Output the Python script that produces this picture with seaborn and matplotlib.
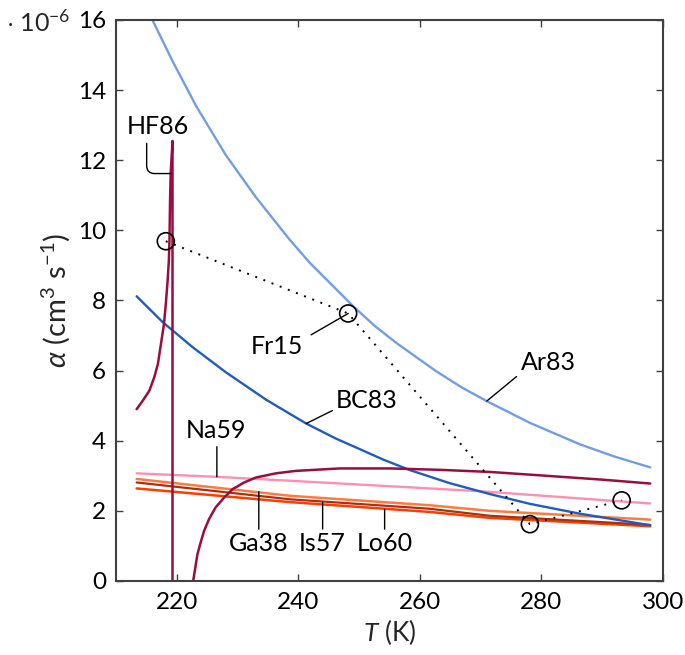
"""Recombination coefficient alpha(T) – several literature curves."""
import matplotlib

matplotlib.use("Agg")
import matplotlib.pyplot as plt
import seaborn as sns

# --- data (alpha in 1e-6 cm^3 s^-1, T in K) ---
T_ar83 = [216.0, 219.3, 223.2, 228.1, 233.0, 238.5, 241.8, 245.2, 249.0, 252.6, 256.2,
          262.7, 266.8, 271.0, 278.1, 286.3, 292.0, 297.9]
a_ar83 = [16.0, 14.83, 13.54, 12.14, 10.95, 9.75, 9.09, 8.50, 7.84, 7.27, 6.78,
          5.98, 5.53, 5.13, 4.51, 3.90, 3.55, 3.24]

T_bc83 = [213.4, 217.7, 222.6, 228.1, 234.7, 241.3, 246.2, 249.6, 254.0, 258.4, 264.9,
          271.5, 278.1, 286.3, 297.9]
a_bc83 = [8.12, 7.38, 6.67, 5.95, 5.17, 4.49, 4.06, 3.80, 3.46, 3.16, 2.79,
          2.48, 2.20, 1.92, 1.59]

# HF86 has a pole near 219.3 K (left branch up, jump, right branch from below)
T_hf86 = [213.4, 214.4, 215.5, 216.3, 216.9, 217.4, 217.9, 218.2, 218.5, 218.7, 218.8,
          218.9, 219.0, 219.3, 219.3, 222.3, 222.7, 223.05, 223.4, 224.0, 224.5, 225.3,
          226.4, 227.8, 229.2, 231.1, 233.0, 236.3, 239.6, 246.8, 255.1, 263.3, 271.5,
          280.0, 290.0, 297.9]
a_hf86 = [4.9, 5.14, 5.43, 5.81, 6.19, 6.76, 7.33, 7.9, 8.57, 9.14, 9.71,
          10.86, 11.62, 12.55, -1.0, -0.5, 0.0, 0.38, 0.76, 1.14, 1.43, 1.76,
          2.1, 2.38, 2.62, 2.81, 2.95, 3.07, 3.14, 3.21, 3.21, 3.17, 3.11,
          3.01, 2.89, 2.78]

T_na59 = [213.4, 226.6, 238.6, 269.9, 297.9]
a_na59 = [3.07, 2.97, 2.86, 2.56, 2.21]

T_lin = [213.4, 238.6, 261.6, 271.5, 297.9]
a_ga38 = [2.91, 2.43, 2.16, 2.0, 1.75]
a_lo60 = [2.81, 2.33, 2.06, 1.86, 1.60]
a_is57 = [2.64, 2.25, 1.97, 1.80, 1.56]

T_fr15 = [218.2, 248.2, 278.1, 293.2]
a_fr15 = [9.69, 7.63, 1.62, 2.3]

x_ticks = [220, 240, 260, 280, 300]
y_ticks = [0, 2, 4, 6, 8, 10, 12, 14, 16]

# colours
C_AR = "#6f9fe3"
C_BC = "#1f5cc0"
C_HF = "#9c0c3f"
C_NA = "#ff8fb0"
C_GA = "#ff7a40"
C_LO = "#a8320c"
C_IS = "#ff3c00"

sns.set_theme(style="ticks")
plt.rcParams["font.family"] = ["Lato", "DejaVu Sans"]
plt.rcParams["mathtext.fontset"] = "custom"
plt.rcParams["mathtext.rm"] = "Lato"
plt.rcParams["mathtext.it"] = "Lato:italic"
plt.rcParams["mathtext.fallback"] = "stixsans"

fig = plt.figure(figsize=(6.85, 6.55), dpi=100)
ax = fig.add_axes([0.1693, 0.1130, 0.7986, 0.8565])


def curve(T, a, color, lw=1.7, **kw):
    sns.lineplot(x=T, y=a, ax=ax, color=color, lw=lw, sort=False, estimator=None, **kw)


curve(T_lin, a_ga38, C_GA, lw=1.8)
curve(T_lin, a_is57, C_IS, lw=1.8)
curve(T_lin, a_lo60, C_LO, lw=1.6)
curve(T_na59, a_na59, C_NA)
curve(T_bc83, a_bc83, C_BC)
curve(T_ar83, a_ar83, C_AR)
curve(T_hf86, a_hf86, C_HF, lw=1.8)

# Fr15 measurements
curve(T_fr15, a_fr15, "black", lw=1.4, linestyle=(0, (1, 3.5)))
sns.scatterplot(x=T_fr15, y=a_fr15, ax=ax, marker="o", s=150,
                facecolor="none", edgecolor="black", linewidth=1.2, zorder=5)

# labels with leader lines
lab_kw = dict(fontsize=18, ha="center", va="center", color="black")
line_kw = dict(arrowstyle="-", lw=1.0, color="black", shrinkA=0, shrinkB=0)

ax.text(216.9, 12.97, "HF86", **lab_kw)
ax.annotate("", xy=(T_hf86[12], a_hf86[12]), xytext=(215.05, 12.48),
            arrowprops=dict(connectionstyle="angle,angleA=90,angleB=0,rad=8", **line_kw))

ax.text(281.1, 6.23, "Ar83", **lab_kw)
ax.annotate("", xy=(T_ar83[13], a_ar83[13]), xytext=(275.9, 5.83), arrowprops=line_kw)

ax.text(251.3, 5.14, "BC83", **lab_kw)
ax.annotate("", xy=(T_bc83[5], a_bc83[5]), xytext=(245.6, 4.86), arrowprops=line_kw)

ax.text(236.5, 6.69, "Fr15", **lab_kw)
ax.annotate("", xy=(T_fr15[1], a_fr15[1]), xytext=(242.1, 7.02), arrowprops=line_kw)

ax.text(226.5, 4.29, "Na59", **lab_kw)
ax.annotate("", xy=(T_na59[1], a_na59[1]), xytext=(226.6, 3.83), arrowprops=line_kw)

for name, tx, ty in [("Ga38", 233.5, 2.55), ("Is57", 244.0, 2.24), ("Lo60", 254.2, 2.05)]:
    ax.text(tx, 1.06, name, **lab_kw)
    ax.annotate("", xy=(tx, ty), xytext=(tx, 1.48), arrowprops=line_kw)

# axes styling
ax.set_xlim(210, 300)
ax.set_ylim(0, 16)
ax.set_xticks(x_ticks)
ax.set_yticks(y_ticks)
ax.tick_params(direction="in", top=True, right=True, length=5, width=1,
               color="#404040", labelsize=17.5, labelcolor="black")
ax.tick_params(axis="x", pad=8)
ax.tick_params(axis="y", pad=7)
for sp in ax.spines.values():
    sp.set_linewidth(1.5)
    sp.set_color("#404040")

ax.set_xlabel(r"$T$ (K)", fontsize=19, labelpad=3)
ax.set_ylabel(r"$\alpha$ (cm$^3$ s$^{-1}$)", fontsize=21, labelpad=4)
fig.text(70 / 685, 1 - 22 / 655, r"$\cdot$ 10$^{-6}$", ha="right", va="center", fontsize=18)

fig.savefig("out.png", dpi=100)
plt.close(fig)
